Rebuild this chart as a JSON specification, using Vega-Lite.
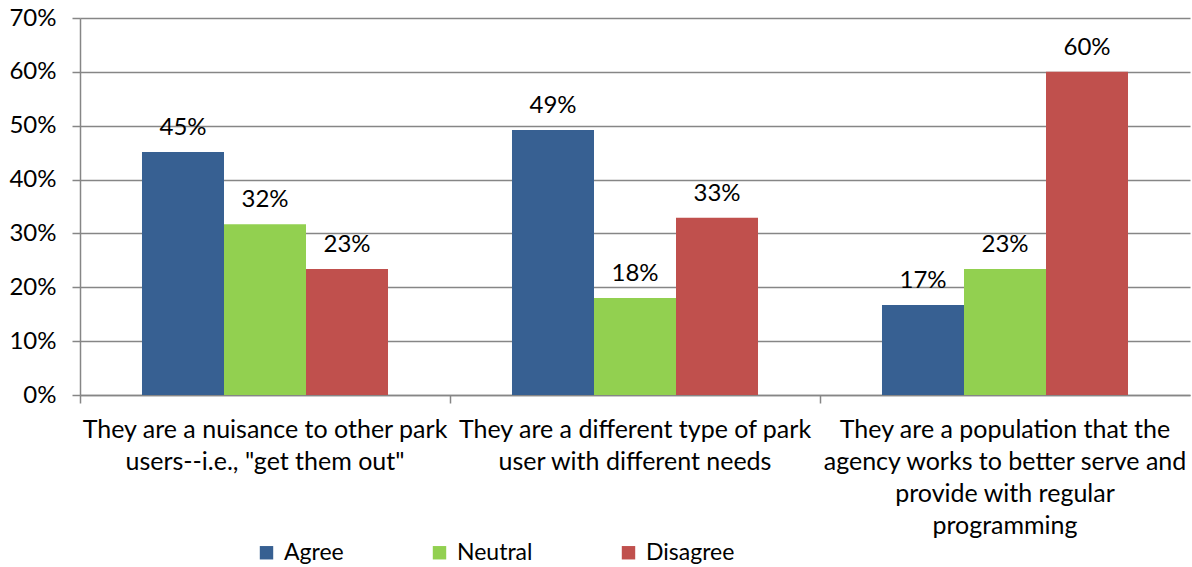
{
  "$schema": "https://vega.github.io/schema/vega-lite/v6.json",
  "width": 1110,
  "height": 377,
  "autosize": {"type": "none"},
  "padding": {"left": 80, "top": 18, "right": 2, "bottom": 172},
  "background": "white",
  "config": {
    "view": {"stroke": null},
    "font": "Lato",
    "axis": {"labelFont": "Lato", "labelColor": "#000000", "titleFont": "Lato"},
    "legend": {"labelFont": "Lato"}
  },
  "data": {
    "values": [
      {"category": "They are a nuisance to other park|users--i.e., \"get them out\"", "response": "Agree", "value": 0.451},
      {"category": "They are a nuisance to other park|users--i.e., \"get them out\"", "response": "Neutral", "value": 0.317},
      {"category": "They are a nuisance to other park|users--i.e., \"get them out\"", "response": "Disagree", "value": 0.234},
      {"category": "They are a different type of park|user with different needs", "response": "Agree", "value": 0.492},
      {"category": "They are a different type of park|user with different needs", "response": "Neutral", "value": 0.180},
      {"category": "They are a different type of park|user with different needs", "response": "Disagree", "value": 0.329},
      {"category": "They are a population that the|agency works to better serve and|provide with regular|programming", "response": "Agree", "value": 0.167},
      {"category": "They are a population that the|agency works to better serve and|provide with regular|programming", "response": "Neutral", "value": 0.234},
      {"category": "They are a population that the|agency works to better serve and|provide with regular|programming", "response": "Disagree", "value": 0.600}
    ]
  },
  "encoding": {
    "x": {
      "field": "category",
      "type": "nominal",
      "sort": null,
      "scale": {"paddingInner": 0, "paddingOuter": 0},
      "axis": {
        "title": null,
        "labelExpr": "split(datum.label, '|')",
        "labelAngle": 0,
        "labelFontSize": 25,
        "labelLineHeight": 32,
        "labelLimit": 400,
        "labelPadding": 14,
        "labelBaseline": "top",
        "bandPosition": 0,
        "tickSize": 8,
        "tickColor": "#868686",
        "domainColor": "#868686",
        "domainWidth": 1.5,
        "tickWidth": 1.5
      }
    },
    "xOffset": {
      "field": "response",
      "type": "nominal",
      "sort": ["Agree", "Neutral", "Disagree"],
      "scale": {"paddingInner": 0, "paddingOuter": 0.756}
    },
    "y": {
      "field": "value",
      "type": "quantitative",
      "scale": {"domain": [0, 0.7], "nice": false},
      "axis": {
        "title": null,
        "format": ".0%",
        "values": [0, 0.1, 0.2, 0.3, 0.4, 0.5, 0.6, 0.7],
        "labelFontSize": 24,
        "labelPadding": 16,
        "tickSize": 8,
        "tickColor": "#868686",
        "domainColor": "#868686",
        "domainWidth": 1.5,
        "tickWidth": 1.5,
        "grid": true,
        "gridColor": "#868686",
        "gridWidth": 1.5
      }
    }
  },
  "layer": [
    {
      "mark": {"type": "bar"},
      "encoding": {
        "color": {
          "field": "response",
          "type": "nominal",
          "sort": ["Agree", "Neutral", "Disagree"],
          "scale": {"domain": ["Agree", "Neutral", "Disagree"], "range": ["#376092", "#92D050", "#C0504D"]},
          "legend": {
            "title": null,
            "orient": "none",
            "direction": "horizontal",
            "legendX": 175,
            "legendY": 523,
            "columns": 3,
            "columnPadding": 84,
            "symbolType": "square",
            "symbolSize": 180,
            "symbolStrokeWidth": 0,
            "labelFontSize": 23,
            "labelOffset": 6,
            "labelColor": "#000000"
          }
        }
      }
    },
    {
      "mark": {"type": "text", "baseline": "bottom", "dy": -12, "fontSize": 24, "color": "#000000"},
      "encoding": {
        "text": {"field": "value", "type": "quantitative", "format": ".0%"}
      }
    }
  ]
}
